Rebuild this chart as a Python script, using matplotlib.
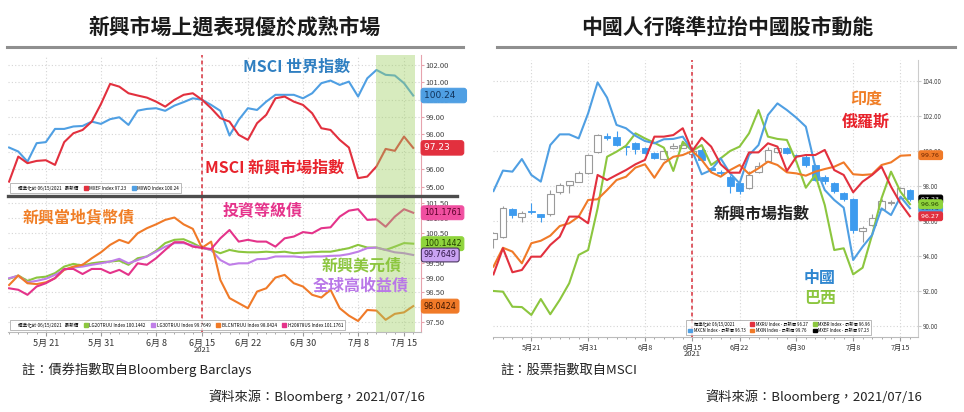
import numpy as np
import pandas as pd
import matplotlib
matplotlib.use("Agg")
import matplotlib.pyplot as plt
import matplotlib.transforms as mtransforms
from matplotlib.patches import Patch
from matplotlib.lines import Line2D

plt.rcParams['font.family'] = ['Noto Sans CJK TC', 'DejaVu Sans']

# 交易日 (05/17 ~ 07/16), 以 06/15 為 100
dates = pd.bdate_range("2021-05-17", "2021-07-16")
base_day = "2021-06-15"
last_week = "2021-07-12"
tick_days = ["2021-05-21", "2021-05-31", "2021-06-08", "2021-06-15",
             "2021-06-22", "2021-06-30", "2021-07-08", "2021-07-15"]
tick_labels_left = ["5月 21", "5月 31", "6月 8", "6月 15", "6月 22", "6月 30", "7月 8", "7月 15"]
tick_labels_right = ["5月21", "5月31", "6月8", "6月15", "6月22", "6月30", "7月8", "7月15"]

# ---- 左上: MSCI 指數
mxef = [95.29, 96.73, 96.35, 96.48, 96.52, 96.25, 97.56, 98.07, 98.26, 98.74, 99.75,
        100.91, 100.75, 100.37, 100.24, 100.12, 99.89, 99.60, 99.99, 100.28, 100.37, 100.00,
        99.51, 98.94, 98.74, 97.98, 97.69, 98.65, 99.13, 100.08, 100.18, 99.89, 99.70,
        99.22, 98.36, 98.26, 97.69, 97.25, 95.49, 95.58, 96.16, 97.17, 97.06, 97.88, 97.23]
mxwo = [97.25, 97.02, 96.44, 97.50, 97.56, 98.32, 98.32, 98.46, 98.49, 98.74, 98.61,
        98.88, 98.99, 98.55, 99.37, 99.47, 99.51, 99.36, 99.66, 99.86, 100.08, 100.00,
        99.70, 99.36, 97.94, 98.84, 99.51, 99.41, 99.89, 100.28, 100.28, 100.28, 100.08,
        100.37, 100.95, 101.10, 100.85, 101.04, 100.18, 101.23, 101.71, 101.43, 101.39, 100.95, 100.24]

# ---- 左下: 債券指數
lg20 = [98.96, 99.07, 98.89, 99.00, 99.03, 99.15, 99.37, 99.46, 99.40, 99.48, 99.52,
        99.54, 99.57, 99.43, 99.65, 99.71, 99.90, 100.16, 100.27, 100.29, 100.16, 100.00,
        99.93, 99.82, 99.93, 99.87, 99.85, 99.85, 99.87, 99.85, 99.87, 99.82, 99.84,
        99.85, 99.87, 99.87, 99.93, 99.99, 100.10, 100.01, 100.01, 99.93, 100.04, 100.16, 100.14]
lg30 = [98.98, 99.06, 98.84, 98.89, 98.96, 99.09, 99.26, 99.34, 99.37, 99.43, 99.48,
        99.54, 99.63, 99.48, 99.59, 99.71, 99.87, 100.04, 100.16, 100.16, 100.08, 100.00,
        99.93, 99.59, 99.43, 99.48, 99.48, 99.62, 99.63, 99.71, 99.71, 99.71, 99.68,
        99.71, 99.71, 99.73, 99.74, 99.79, 99.87, 99.99, 100.01, 99.93, 99.85, 99.82, 99.76]
blcn = [98.75, 99.07, 98.81, 98.78, 98.84, 98.98, 99.26, 99.37, 99.43, 99.65, 99.85,
        100.10, 100.27, 100.16, 100.49, 100.66, 100.79, 100.94, 101.02, 100.79, 100.64, 100.00,
        100.21, 98.92, 98.31, 98.14, 97.97, 98.53, 98.64, 99.00, 99.09, 98.81, 98.70,
        98.42, 98.33, 98.59, 97.97, 97.72, 97.54, 97.91, 97.89, 97.58, 97.78, 97.83, 98.04]
h208 = [98.64, 98.59, 98.42, 98.70, 98.81, 98.98, 99.29, 99.29, 99.12, 99.29, 99.29,
        99.15, 99.26, 99.09, 99.48, 99.43, 99.65, 99.93, 100.19, 100.19, 100.04, 100.00,
        99.96, 100.32, 100.60, 100.21, 100.27, 100.21, 100.21, 100.04, 100.32, 100.38, 100.53,
        100.49, 100.66, 100.69, 101.05, 101.25, 101.30, 100.94, 100.96, 100.71, 101.05, 101.30, 101.18]

# ---- 右: 各國股市 + 新興市場指數 K 線 (收盤 = mxef)
mxcn = [97.71, 98.88, 98.82, 99.54, 98.63, 98.25, 100.34, 100.95, 100.95, 100.72, 102.15,
        103.92, 103.05, 101.49, 101.30, 100.87, 100.57, 100.44, 100.67, 100.69, 100.82, 100.00,
        98.67, 98.91, 99.58, 98.72, 98.15, 99.77, 100.34, 102.06, 102.72, 102.34, 101.90,
        101.39, 99.10, 97.77, 97.20, 96.76, 93.77, 94.53, 95.20, 96.72, 96.34, 97.39, 96.73]
mxru = [92.95, 94.44, 93.07, 93.20, 93.96, 93.96, 94.63, 95.10, 96.25, 96.25, 95.87,
        98.63, 98.34, 98.63, 98.91, 99.24, 99.49, 100.82, 100.82, 100.91, 101.30, 100.00,
        100.76, 100.25, 99.24, 98.76, 98.76, 99.92, 99.92, 100.44, 100.25, 98.86, 99.67,
        99.77, 99.77, 100.06, 98.91, 98.63, 97.64, 98.25, 98.63, 99.10, 97.96, 97.01, 96.27]
mxin = [93.39, 94.47, 94.25, 93.58, 94.73, 94.87, 95.16, 95.71, 95.87, 96.25, 97.20,
        97.24, 97.77, 98.34, 98.53, 99.05, 99.24, 98.47, 99.30, 99.67, 99.77, 100.00,
        99.49, 98.78, 98.53, 98.91, 99.20, 98.69, 99.01, 99.39, 99.20, 98.78, 98.72,
        98.59, 98.82, 98.97, 99.10, 99.35, 98.67, 98.63, 98.67, 99.20, 99.35, 99.73, 99.76]
mxbr = [92.00, 91.96, 91.10, 91.08, 90.63, 91.54, 90.67, 91.49, 92.44, 94.06, 94.34,
        96.72, 99.67, 99.96, 100.30, 101.01, 100.72, 100.47, 100.19, 98.86, 100.53, 100.00,
        100.34, 99.20, 99.58, 100.00, 100.25, 101.01, 102.34, 100.82, 100.69, 100.63, 99.39,
        97.90, 98.63, 96.91, 94.34, 94.44, 92.95, 93.33, 95.20, 97.30, 98.82, 97.67, 96.96]
ef_open = [94.95, 95.10, 96.67, 96.25, 96.55, 96.38, 96.38, 97.64, 98.06, 98.25, 98.73,
           99.96, 100.85, 100.82, 100.26, 100.44, 100.15, 99.87, 99.54, 100.15, 100.19, 99.85,
           100.06, 98.98, 98.80, 98.53, 98.15, 97.87, 98.80, 99.43, 99.96, 100.18, 99.77,
           99.67, 99.20, 98.53, 98.19, 97.58, 97.26, 95.40, 95.77, 96.71, 97.00, 97.30, 97.77]
ef_high = [95.35, 96.85, 96.76, 96.55, 97.05, 96.42, 97.77, 98.15, 98.30, 98.85, 99.85,
           100.95, 101.05, 101.15, 100.30, 100.50, 100.20, 99.92, 100.05, 100.45, 100.55, 100.20,
           100.15, 99.10, 98.90, 98.60, 98.20, 98.85, 99.35, 100.20, 100.30, 100.25, 99.85,
           99.75, 99.25, 98.60, 98.25, 97.65, 97.30, 95.70, 96.40, 97.25, 97.20, 97.95, 97.85]
ef_low = [94.45, 95.05, 96.19, 95.96, 96.38, 95.96, 96.30, 97.55, 97.60, 98.20, 98.70,
          99.90, 100.60, 100.30, 99.77, 99.81, 99.80, 99.55, 99.50, 100.10, 100.15, 99.80,
          99.40, 98.80, 98.60, 97.60, 97.55, 97.80, 98.75, 99.40, 99.90, 99.80, 99.60,
          99.10, 98.30, 98.10, 97.60, 97.15, 95.30, 94.80, 95.70, 96.65, 96.90, 97.25, 97.15]

c_red = "#e2303e"
c_blue = "#4f9fe3"
c_orange = "#f07a28"
c_green = "#8cc63f"
c_purple = "#c07ee8"
c_pink = "#e4338a"
c_candle = "#3d9bef"

W, H = 964, 412
fig = plt.figure(figsize=(W / 100, H / 100), dpi=100)


def box(x0, y0, x1, y1):
    return [x0 / W, 1 - y1 / H, (x1 - x0) / W, (y1 - y0) / H]


x = np.arange(len(dates))
tick_pos = [dates.get_loc(pd.Timestamp(d)) for d in tick_days]
base_pos = dates.get_loc(pd.Timestamp(base_day))
span_start = dates.get_loc(pd.Timestamp(last_week)) - 0.1


def style(ax, ylim, yticks, yfs, xlo):
    ax.set_xlim(xlo, len(x) - 0.15)
    ax.set_ylim(*ylim)
    ax.yaxis.tick_right()
    ax.set_yticks(yticks)
    ax.set_yticklabels(["%.2f" % v for v in yticks], fontsize=yfs, color="#444444")
    ax.set_xticks(tick_pos)
    ax.set_xticks(x, minor=True)
    ax.grid(True, which="major", color="#d5d5d5", ls=(0, (1, 2)), lw=0.8)
    ax.set_axisbelow(True)
    for s in ["left", "top"]:
        ax.spines[s].set_visible(False)
    ax.tick_params(axis="y", length=2, color="#e6a3ad", pad=1.5)
    ax.tick_params(axis="x", which="major", length=3, color="#999999", pad=2)
    ax.tick_params(axis="x", which="minor", length=1.5, color="#999999")
    ax.axvline(base_pos, color="#d8303c", ls=(0, (2.5, 2)), lw=1.1, zorder=4)


def tag(ax, val, text, fc, tc, ec=None, fs=6, pad=0.3):
    tr = mtransforms.blended_transform_factory(ax.transAxes, ax.transData)
    ax.annotate(text, xy=(1.0, val), xycoords=tr, xytext=(2, 0), textcoords="offset points",
                ha="left", va="center", fontsize=fs, color=tc, family="DejaVu Sans",
                bbox=dict(boxstyle="round,pad=%.2f" % pad, fc=fc, ec=ec or fc, lw=0.8),
                annotation_clip=False, zorder=6)


def year_label(ax, off):
    tr = mtransforms.blended_transform_factory(ax.transData, ax.transAxes)
    ax.annotate("2021", xy=(base_pos, 0), xycoords=tr, xytext=(0, -off), textcoords="offset points",
                ha="center", va="center", fontsize=5.5, color="#333333", annotation_clip=False)


def make_legend(ax, handles, ncol, anchor, fs=3.3):
    lg = ax.legend(handles=handles, ncol=ncol, loc="lower left", bbox_to_anchor=anchor,
                   fontsize=fs, frameon=True, fancybox=False, edgecolor="#9a9a9a",
                   handlelength=0.9, handleheight=0.9, handletextpad=0.3, columnspacing=1.2,
                   borderpad=0.45, labelspacing=0.3)
    lg.get_frame().set_linewidth(0.6)
    lg.set_zorder(7)


blank = Patch(alpha=0, label="標準化於 06/15/2021   最新價")

# ================= 左上
ax_top = fig.add_axes(box(8, 55, 421, 195))
style(ax_top, (94.52, 102.57), np.arange(95, 103, 1.0), 5.5, -0.12)
ax_top.tick_params(axis="x", which="both", labelbottom=False, length=0)
ax_top.spines["bottom"].set_visible(False)
ax_top.spines["right"].set_color("#e6a3ad")
ax_top.plot(x, mxwo, color=c_blue, lw=1.5, zorder=3)
ax_top.plot(x, mxef, color=c_red, lw=1.5, zorder=3)
ax_top.axvspan(span_start, len(x) - 0.8, color="#a0d064", alpha=0.42, lw=0, zorder=5)
tag(ax_top, mxwo[-1], "%.2f   " % mxwo[-1], c_blue, "#10325a", fs=6.5)
tag(ax_top, mxef[-1], "%.2f    " % mxef[-1], c_red, "white", fs=6.5)
make_legend(ax_top, [blank, Patch(color=c_red, label="MXEF Index 97.23"),
                     Patch(color=c_blue, label="MXWO Index 100.24")], 3, (0.0, 0.0))

# ================= 左下
ax_bot = fig.add_axes(box(8, 197, 421, 332))
style(ax_bot, (97.17, 101.71), np.arange(97.5, 101.6, 0.5), 5.5, -0.12)
ax_bot.spines["right"].set_color("#e6a3ad")
ax_bot.spines["bottom"].set_color("#bbbbbb")
ax_bot.set_xticklabels(tick_labels_left, fontsize=6.5, color="#333333")
ax_bot.plot(x, lg20, color=c_green, lw=1.5, zorder=3)
ax_bot.plot(x, lg30, color=c_purple, lw=1.5, zorder=3)
ax_bot.plot(x, blcn, color=c_orange, lw=1.5, zorder=3)
ax_bot.plot(x, h208, color=c_pink, lw=1.5, zorder=3)
ax_bot.axvspan(span_start, len(x) - 0.8, color="#a0d064", alpha=0.42, lw=0, zorder=5)
tag(ax_bot, h208[-1], "101.1761", "#f04fa0", "#5a0028", fs=5.8)
tag(ax_bot, lg20[-1], "100.1442", "#8fd43c", "#243f00", fs=5.8)
tag(ax_bot, lg30[-1], "99.7649", "#c9a2f2", "#2e1445", ec="#4a3560", fs=5.8)
tag(ax_bot, blcn[-1], "98.0424", c_orange, "#3e1600", fs=5.8)
year_label(ax_bot, 13)
make_legend(ax_bot, [blank, Patch(color=c_green, label="LG20TRUU Index 100.1442"),
                     Patch(color=c_purple, label="LG30TRUU Index 99.7649"),
                     Patch(color=c_orange, label="BLCNTRUU Index 98.0424"),
                     Patch(color=c_pink, label="H20878US Index 101.1761")], 5, (0.0, 0.0))

fig.add_artist(Line2D([8 / W, 457 / W], [1 - 196 / H] * 2, color="#4d4d4d", lw=2.4))

# ================= 右
ax_r = fig.add_axes(box(493, 60, 918, 337))
style(ax_r, (89.37, 105.2), np.arange(90, 105, 2.0), 4.5, -0.05)
ax_r.spines["right"].set_color("#cccccc")
ax_r.spines["bottom"].set_color("#bbbbbb")
ax_r.tick_params(axis="y", color="#cccccc")
ax_r.set_xticklabels(tick_labels_right, fontsize=5.2, color="#333333")

o = np.array(ef_open)
c = np.array(mxef)
up = c >= o
bottom = np.minimum(o, c)
height = np.maximum(np.abs(c - o), 0.06)
ax_r.vlines(x[up], np.array(ef_low)[up], np.array(ef_high)[up], color="#9a9a9a", lw=0.8, zorder=2)
ax_r.vlines(x[~up], np.array(ef_low)[~up], np.array(ef_high)[~up], color=c_candle, lw=0.8, zorder=2)
ax_r.bar(x[up], height[up], bottom=bottom[up], width=0.72, color="white",
         edgecolor="#9a9a9a", lw=0.8, zorder=2.5)
ax_r.bar(x[~up], height[~up], bottom=bottom[~up], width=0.72, color=c_candle,
         edgecolor=c_candle, lw=0.6, zorder=2.5)

ax_r.plot(x, mxbr, color=c_green, lw=1.5, zorder=3)
ax_r.plot(x, mxcn, color=c_blue, lw=1.5, zorder=3)
ax_r.plot(x, mxin, color=c_orange, lw=1.5, zorder=3)
ax_r.plot(x, mxru, color=c_red, lw=1.5, zorder=3)

tag(ax_r, mxin[-1], "%.2f " % mxin[-1], c_orange, "#6a2400", fs=4.5)
tag(ax_r, mxcn[-1], "%.2f " % mxcn[-1], c_blue, "#10325a", fs=4.5)
tag(ax_r, mxef[-1], "%.2f " % mxef[-1], "black", "white", fs=4.5)
tag(ax_r, mxbr[-1], "%.2f " % mxbr[-1], "#8fd43c", "#243f00", fs=4.5)
tag(ax_r, mxru[-1], "%.2f " % mxru[-1], c_red, "white", fs=4.5)
year_label(ax_r, 12)
make_legend(ax_r, [Patch(alpha=0, label="標準化於 06/15/2021"),
                   Patch(color=c_blue, label="MXCN Index - 最新價 96.73"),
                   Patch(color=c_red, label="MXRU Index - 最新價 96.27"),
                   Patch(color=c_orange, label="MXIN Index - 最新價 99.76"),
                   Patch(color=c_green, label="MXBR Index - 最新價 96.96"),
                   Patch(color="black", label="MXEF Index - 最新價 97.23")], 3, (0.45, 0.0), fs=3.1)


# ================= 文字
def label(px, py, s, color, size, weight="bold"):
    fig.text(px / W, 1 - py / H, s, color=color, fontsize=size, ha="center", va="center",
             weight=weight)


label(297, 67, "MSCI 世界指數", "#2f7fc1", 11.5)
label(275, 167, "MSCI 新興市場指數", "#e8222b", 11.5)
label(79, 217, "新興當地貨幣債", "#f07e26", 11.5)
label(263, 210, "投資等級債", "#e5338b", 11.5)
label(362, 265, "新興美元債", "#8cc63f", 11.5)
label(361, 286, "全球高收益債", "#b977e8", 11.5)

label(866, 100, "印度", "#f07e26", 11.5)
label(866, 122, "俄羅斯", "#e8222b", 11.5)
label(762, 213, "新興市場指數", "#222222", 11.5)
label(820, 278, "中國", "#2e86d0", 11.5)
label(820, 298, "巴西", "#8cc63f", 11.5)

label(235, 27, "新興市場上週表現優於成熟市場", "#1a1a1a", 15)
label(727, 27, "中國人行降準拉抬中國股市動能", "#1a1a1a", 15)
fig.add_artist(Line2D([7 / W, 463 / W], [1 - 47 / H] * 2, color="#8f8f8f", lw=2.2))
fig.add_artist(Line2D([497 / W, 955 / W], [1 - 47 / H] * 2, color="#8f8f8f", lw=2.2))

fig.text(22 / W, 1 - 370 / H, "註：債券指數取自Bloomberg Barclays", fontsize=9.5, ha="left", va="center", color="#222222")
fig.text(425 / W, 1 - 397 / H, "資料來源：Bloomberg，2021/07/16", fontsize=9.5, ha="right", va="center", color="#222222")
fig.text(500 / W, 1 - 370 / H, "註：股票指數取自MSCI", fontsize=9.5, ha="left", va="center", color="#222222")
fig.text(922 / W, 1 - 397 / H, "資料來源：Bloomberg，2021/07/16", fontsize=9.5, ha="right", va="center", color="#222222")

fig.savefig("out.png", dpi=100)
